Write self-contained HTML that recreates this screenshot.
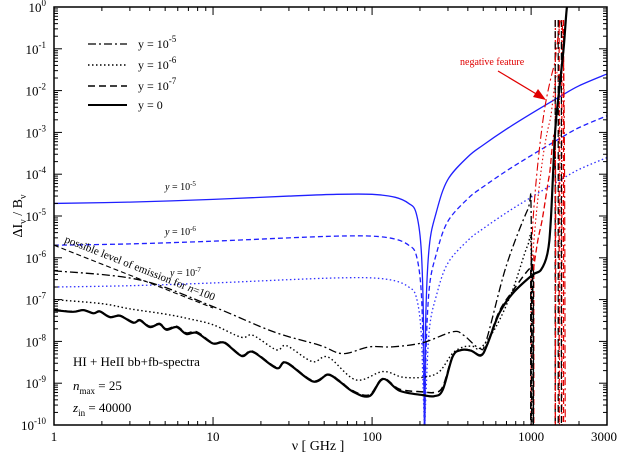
<!DOCTYPE html>
<html><head><meta charset="utf-8"><style>
html,body{margin:0;padding:0;background:#fff;overflow:hidden;width:621px;height:456px}
svg{display:block;font-family:"Liberation Serif",serif}
</style></head><body>
<svg id="chart" width="621" height="456" viewBox="0 0 621 456">
<defs><clipPath id="pc"><rect x="54" y="7" width="553" height="418"/></clipPath></defs>
<rect x="0" y="0" width="621" height="456" fill="#fff"/>
<g id="series" clip-path="url(#pc)"></g>
<g id="axes"></g>
<g id="labels"></g>
<g font-family="Liberation Serif, serif">
<text x="318" y="450" font-size="14" text-anchor="middle">ν [ GHz ]</text>
<text transform="translate(22,216) rotate(-90)" font-size="14" text-anchor="middle">ΔI<tspan dy="4" font-size="10">ν</tspan><tspan dy="-4"> / B</tspan><tspan dy="4" font-size="10">ν</tspan></text>
<g font-size="12">
<line x1="88" y1="44" x2="127" y2="44" stroke="#000" stroke-width="1.3" stroke-dasharray="8,3,2,3"/>
<text x="138" y="48">y = 10<tspan dy="-6" font-size="9">-5</tspan></text>
<line x1="88" y1="65" x2="127" y2="65" stroke="#000" stroke-width="1.4" stroke-dasharray="1.5,2.5"/>
<text x="138" y="69">y = 10<tspan dy="-6" font-size="9">-6</tspan></text>
<line x1="88" y1="86" x2="127" y2="86" stroke="#000" stroke-width="1.5" stroke-dasharray="7,4"/>
<text x="138" y="90">y = 10<tspan dy="-6" font-size="9">-7</tspan></text>
<line x1="88" y1="105" x2="127" y2="105" stroke="#000" stroke-width="2"/>
<text x="138" y="109">y = 0</text>
</g>
<text x="165" y="190" font-size="10"><tspan font-style="italic">y</tspan> = 10<tspan dy="-4" font-size="7">-5</tspan></text>
<text x="165" y="235" font-size="10"><tspan font-style="italic">y</tspan> = 10<tspan dy="-4" font-size="7">-6</tspan></text>
<text x="170" y="276" font-size="10"><tspan font-style="italic">y</tspan> = 10<tspan dy="-4" font-size="7">-7</tspan></text>
<text transform="translate(64,242) rotate(21.5)" font-size="11">possible level of emission for <tspan font-style="italic">n</tspan>=100</text>
<text x="460" y="65" font-size="10" fill="#e00000">negative feature</text>
<line x1="498" y1="71" x2="543" y2="98" stroke="#e00000" stroke-width="1.2"/>
<polygon points="546,100 533,97 538,89" fill="#e00000"/>
<g font-size="13">
<text x="73" y="366">HI + HeII bb+fb-spectra</text>
<text x="73" y="390"><tspan font-style="italic">n</tspan><tspan dy="4" font-size="9">max</tspan><tspan dy="-4"> = 25</tspan></text>
<text x="73" y="412"><tspan font-style="italic">z</tspan><tspan dy="4" font-size="9">in</tspan><tspan dy="-4"> = 40000</tspan></text>
</g>
</g>
</svg>
<script>
// ---- data ----
const blueY5Nu  = [1,3,10,30,60,100,140,170,189,203,210,214,218,229,253,298,400,500,700,1000,1500,2000,3000];
const blueY5Val = [2e-5,2.15e-5,2.5e-5,3e-5,3.3e-5,3.3e-5,2.8e-5,2e-5,1.2e-5,1.9e-6,5e-8,1e-11,5e-8,1.9e-6,1.2e-5,7.2e-5,2.6e-4,5e-4,1.2e-3,2.8e-3,7e-3,1.3e-2,2.5e-2];
const blueY6Val = [2e-6,2.15e-6,2.5e-6,3e-6,3.3e-6,3.3e-6,2.8e-6,2e-6,1.2e-6,1.9e-7,5e-9,1e-12,5e-9,1.9e-7,1.2e-6,7.2e-6,2.6e-5,5e-5,1.2e-4,2.8e-4,7e-4,1.3e-3,2.5e-3];
const blueY7Val = [2e-7,2.15e-7,2.5e-7,3e-7,3.3e-7,3.3e-7,2.8e-7,2e-7,1.2e-7,1.9e-8,5e-10,1e-13,5e-10,1.9e-8,1.2e-7,7.2e-7,2.6e-6,5e-6,1.2e-5,2.8e-5,7e-5,1.3e-4,2.5e-4];

const y0Nu  = [1,1.32,1.53,1.77,1.94,2.25,2.6,3.15,3.47,4.0,4.6,5.1,5.9,6.8,7.9,10,11.8,15.1,17.8,25,28.9,42.4,52.7,62.4,75.7,96.3,117,149,208,246,278,321,363,419,484,533,630,765,1021,1152,1268,1330,1415,1500,1600,1680,1750];
const y0Val = [5.6e-8,5.1e-8,5.6e-8,4.7e-8,5.2e-8,3.8e-8,4.1e-8,2.8e-8,3.2e-8,2.2e-8,2.6e-8,1.9e-8,2.2e-8,1.5e-8,1.6e-8,8.9e-9,9.3e-9,4.5e-9,5.6e-9,2.3e-9,3.1e-9,1.1e-9,1.6e-9,1.1e-9,6.3e-10,4.9e-10,1.26e-9,6.6e-10,5.2e-10,4.9e-10,6.9e-10,4.3e-9,6.2e-9,6.0e-9,4.6e-9,8.9e-9,4.7e-8,1.4e-7,3.9e-7,5.1e-7,1.3e-6,7.9e-6,1e-3,1e-2,1e-1,1,3];

const y7Nu  = [1,1.32,1.53,1.77,1.94,2.25,2.6,3.15,3.47,4.0,4.6,5.1,5.9,6.8,7.9,10,11.8,15.1,17.8,25,28.9,42.4,52.7,62.4,75.7,96.3,117,149,208,246,278,321,363,419,484,533,630,765,973,1020,1032];
const y7Val = [5.8e-8,5.2e-8,5.7e-8,4.8e-8,5.3e-8,3.9e-8,4.2e-8,2.9e-8,3.3e-8,2.3e-8,2.7e-8,2.0e-8,2.3e-8,1.6e-8,1.7e-8,9.2e-9,9.6e-9,4.7e-9,5.8e-9,2.4e-9,3.2e-9,1.15e-9,1.65e-9,1.15e-9,6.6e-10,5.3e-10,1.3e-9,7.2e-10,6.2e-10,6.0e-10,8.2e-10,4.5e-9,6.3e-9,6.1e-9,4.8e-9,9.5e-9,5.2e-8,1.6e-7,5.4e-7,4.5e-7,1e-11];

const y6Nu  = [1,2,3,5,7,10,15,17.8,25,29,42,53,79,117,155,213,265,321,377,430,480,600,765,948,1000,1008];
const y6Val = [1.0e-7,8e-8,6e-8,4.5e-8,3.5e-8,2.5e-8,1.26e-8,1.4e-8,6.3e-9,7.9e-9,3.3e-9,4.2e-9,1.2e-9,1.9e-9,1.4e-9,1.4e-9,1.9e-9,5.2e-9,7.4e-9,7.6e-9,6.9e-9,2.2e-8,1.7e-7,1.9e-6,1.4e-6,1e-11];

const y5Nu  = [1,3.47,10,24,46.8,65.3,96,134,208,321,377,473,523,696,950,1000,1008];
const y5Val = [4.9e-7,2.95e-7,6.8e-8,1.7e-8,8.1e-9,5.1e-9,7.4e-9,7.4e-9,9.3e-9,1.7e-8,1.4e-8,6.8e-9,1.07e-8,6.2e-7,1.4e-5,1.26e-5,1e-11];

const emisNu  = [1,10];
const emisVal = [2e-6,6.3e-8];

const negDashDotNu  = [1002,1040,1092,1160,1244,1397,1591,1640];
const negDashDotVal = [1.5e-6,1.5e-5,1.26e-4,1e-3,6e-3,4e-2,1.4e-1,1e-11];
const negDotNu  = [1017,1080,1157,1230,1318,1501,1505];
const negDotVal = [9e-7,1.2e-5,1.26e-4,6e-4,2e-3,1e-2,1e-11];
const negDashNu  = [1032,1100,1173,1240,1303,1417,1420];
const negDashVal = [5e-7,2.5e-6,8e-6,3e-5,9.5e-5,3.8e-4,1e-11];

const vlineRedNu = [1000,1040,1420,1500,1560,1600];
const vlineBlackNu = [993,1035,1417,1480,1550];

const xTickMajor = [1,10,100,1000,3000];
const xTickLabels = ["1","10","100","1000","3000"];
const yTickExp = [0,-1,-2,-3,-4,-5,-6,-7,-8,-9,-10];

// ---- scales ----
const L=54,R=607,T=7,B=425;
const X = nu => L + (R-L)*Math.log10(nu)/Math.log10(3000);
const Y = v => T + (B-T)*(-Math.log10(v))/10;
const NS="http://www.w3.org/2000/svg";
const series=document.getElementById('series');
const axes=document.getElementById('axes');
const labels=document.getElementById('labels');
function mk(tag,attrs,parent){const e=document.createElementNS(NS,tag);for(const k in attrs)e.setAttribute(k,attrs[k]);parent.appendChild(e);return e;}
function smoothPath(nus,vals,smooth){
  const p=nus.map((n,i)=>[X(n),Math.max(T-5,Math.min(B+3,Y(vals[i])))]);
  let d='M'+p[0][0].toFixed(2)+','+p[0][1].toFixed(2);
  for(let i=0;i<p.length-1;i++){
    if(!smooth){d+='L'+p[i+1][0].toFixed(2)+','+p[i+1][1].toFixed(2);continue;}
    const p0=p[i-1]||p[i],p1=p[i],p2=p[i+1],p3=p[i+2]||p2;
    const c1=[p1[0]+(p2[0]-p0[0])/6,p1[1]+(p2[1]-p0[1])/6];
    const c2=[p2[0]-(p3[0]-p1[0])/6,p2[1]-(p3[1]-p1[1])/6];
    d+='C'+c1[0].toFixed(2)+','+c1[1].toFixed(2)+' '+c2[0].toFixed(2)+','+c2[1].toFixed(2)+' '+p2[0].toFixed(2)+','+p2[1].toFixed(2);
  }
  return d;
}
function addLine(name,nus,vals,color,w,dash,smooth){
  const e=mk('path',{d:smoothPath(nus,vals,smooth),fill:'none',stroke:color,'stroke-width':w},series);
  if(dash)e.setAttribute('stroke-dasharray',dash);
  
  
}
const DD='8,3,2,3', DOT='1.5,2.5', DASH='7,4';
addLine('blue-y-1e-5-line',blueY5Nu,blueY5Val,'#2020ff',1.3,null,true);
addLine('blue-y-1e-6-line',blueY5Nu,blueY6Val,'#2020ff',1.3,'5,3',true);
addLine('blue-y-1e-7-line',blueY5Nu,blueY7Val,'#3030ff',1.3,DOT,true);
vlineRedNu.forEach((n,i)=>{
  const e=mk('line',{x1:X(n),x2:X(n),y1:i<2?255:20,y2:B,stroke:'#e00000','stroke-width':1.2,'stroke-dasharray':i%2?'6,3':'6,2,2,2'},series);
  
  
});
vlineBlackNu.forEach((n,i)=>{
  const e=mk('line',{x1:X(n),x2:X(n),y1:i<2?270:20,y2:B,stroke:'#000','stroke-width':1.2,'stroke-dasharray':'7,4'},series);
  
  
});
addLine('negative-feature-y-1e-5',negDashDotNu,negDashDotVal,'#e00000',1.1,DD,true);
addLine('negative-feature-y-1e-6',negDotNu,negDotVal,'#e00000',1.1,DOT,true);
addLine('negative-feature-y-1e-7',negDashNu,negDashVal,'#e00000',1.3,'6,3',true);
addLine('emission-level-n100-line',emisNu,emisVal,'#000',1.1,'5,3',false);
addLine('spectrum-y-1e-5',y5Nu,y5Val,'#000',1.3,DD,true);
addLine('spectrum-y-1e-6',y6Nu,y6Val,'#000',1.4,DOT,true);
addLine('spectrum-y-1e-7',y7Nu,y7Val,'#000',1.5,DASH,true);
addLine('spectrum-y-0',y0Nu,y0Val,'#000',2.2,null,true);

// ---- axes ----
const frame=mk('rect',{x:L,y:T,width:R-L,height:B-T,fill:'none',stroke:'#000','stroke-width':1.5},axes);


function tick(x1,y1,x2,y2){mk('line',{x1,y1,x2,y2,stroke:'#000','stroke-width':1},axes);}
for(let dec=0;dec<4;dec++){
  for(let m=1;m<10;m++){
    const n=m*Math.pow(10,dec); if(n>=3000)break;
    const x=X(n), len=m===1?8:4;
    tick(x,B,x,B-len); tick(x,T,x,T+len);
  }
}
for(let e=0;e>-10;e--){
  for(let m=1;m<10;m++){
    const v=m*Math.pow(10,e-1);
    const y=Y(v), len=m===1?8:4;
    tick(L,y,L+len,y); tick(R,y,R-len,y);
  }
}
xTickMajor.forEach((n,i)=>{
  const t=mk('text',{x:Math.min(X(n),604),y:441,'text-anchor':'middle','font-size':13},labels);
  t.textContent=xTickLabels[i];
  
  
});
yTickExp.forEach(e=>{
  const t=mk('text',{x:46,y:Y(Math.pow(10,e))+5,'text-anchor':'end','font-size':13},labels);
  t.innerHTML='10<tspan dy="-6" font-size="9">'+e+'</tspan>';
  
  
});
</script>
</body></html>
